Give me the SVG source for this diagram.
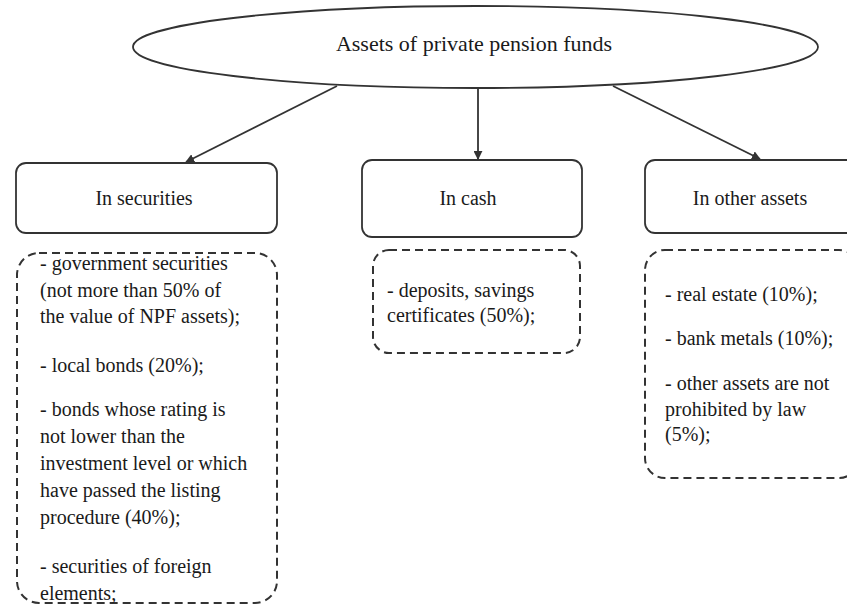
<svg xmlns="http://www.w3.org/2000/svg" width="847" height="608" viewBox="0 0 847 608">
<style>
.t{font-family:"Liberation Serif","Times New Roman",serif;font-size:20px;fill:#1a1a1a}
.title{font-size:22px;text-anchor:middle}
.c{text-anchor:middle}
.solid{fill:#fff;stroke:#333;stroke-width:1.8}
.dash{fill:none;stroke:#333;stroke-width:2;stroke-dasharray:8 5}
.conn{stroke:#333;stroke-width:1.8;fill:none}
</style>
<defs>
<marker id="ah" viewBox="0 0 10 10" refX="9" refY="5" markerWidth="5" markerHeight="5" orient="auto">
<path d="M0,0 L10,5 L0,10 z" fill="#333"/>
</marker>
</defs>
<rect width="847" height="608" fill="#fff"/>
<g id="connectors">
<line class="conn" x1="337" y1="86" x2="186" y2="162" marker-end="url(#ah)"/>
<line class="conn" x1="478" y1="88" x2="478" y2="159" marker-end="url(#ah)"/>
<line class="conn" x1="613" y1="86" x2="760" y2="159" marker-end="url(#ah)"/>
</g>
<g id="root">
<ellipse class="solid" cx="475.5" cy="47" rx="342.5" ry="41"/>
<text class="t title" x="474" y="51">Assets of private pension funds</text>
</g>
<g id="securities">
<rect class="solid" x="16" y="163" width="261" height="70" rx="10"/>
<text class="t c" x="144" y="205">In securities</text>
</g>
<g id="cash">
<rect class="solid" x="362" y="160" width="220" height="77" rx="10"/>
<text class="t c" x="468" y="205">In cash</text>
</g>
<g id="other">
<rect class="solid" x="645" y="160" width="220" height="73" rx="10"/>
<text class="t c" x="750" y="205">In other assets</text>
</g>
<g id="securities-list">
<rect class="dash" x="17" y="253" width="260" height="350" rx="22"/>
<text class="t" x="40" y="270">- government securities</text>
<text class="t" x="40" y="297">(not more than 50% of</text>
<text class="t" x="40" y="323">the value of NPF assets);</text>
<text class="t" x="40" y="372">- local bonds (20%);</text>
<text class="t" x="40" y="416">- bonds whose rating is</text>
<text class="t" x="40" y="443">not lower than the</text>
<text class="t" x="40" y="470">investment level or which</text>
<text class="t" x="40" y="497">have passed the listing</text>
<text class="t" x="40" y="524">procedure (40%);</text>
<text class="t" x="40" y="573">- securities  of foreign</text>
<text class="t" x="40" y="600">elements;</text>
</g>
<g id="cash-list">
<rect class="dash" x="373" y="250" width="207" height="103" rx="16"/>
<text class="t" x="387" y="297">- deposits, savings</text>
<text class="t" x="387" y="322">certificates  (50%);</text>
</g>
<g id="other-list">
<rect class="dash" x="645" y="250" width="214" height="228" rx="20"/>
<text class="t" x="665" y="301">- real  estate (10%);</text>
<text class="t" x="665" y="345">- bank metals (10%);</text>
<text class="t" x="665" y="390">- other assets are not</text>
<text class="t" x="665" y="416">prohibited by law</text>
<text class="t" x="665" y="441">(5%);</text>
</g>
</svg>
